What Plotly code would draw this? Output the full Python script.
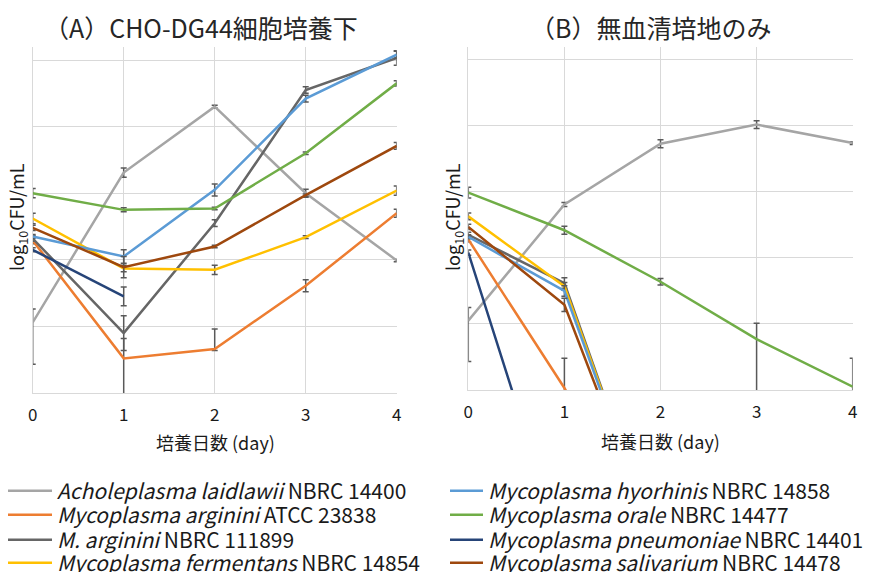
import plotly.graph_objects as go

days = [0, 1, 2, 3, 4]

names = [
    "<i>Acholeplasma laidlawii</i> NBRC 14400",
    "<i>Mycoplasma arginini</i> ATCC 23838",
    "<i>M. arginini</i> NBRC 111899",
    "<i>Mycoplasma fermentans</i> NBRC 14854",
    "<i>Mycoplasma hyorhinis</i> NBRC 14858",
    "<i>Mycoplasma orale</i> NBRC 14477",
    "<i>Mycoplasma pneumoniae</i> NBRC 14401",
    "<i>Mycoplasma salivarium</i> NBRC 14478",
]
colors = ["#A5A5A5", "#ED7D31", "#666666", "#FFC000",
          "#5B9BD5", "#70AD47", "#264478", "#9E480E"]

# (A) with CHO-DG44 cells : log10 CFU/mL
a_laidlawii = [4.06, 6.31, 7.30, 6.00, 4.99]
a_arginini_atcc = [5.29, 3.52, 3.66, 4.61, 5.70]
a_arginini_nbrc = [5.32, 3.90, 5.55, 7.55, 8.03]
a_fermentans = [5.62, 4.87, 4.85, 5.34, 6.04]
a_hyorhinis = [5.35, 5.05, 6.05, 7.42, 8.08]
a_orale = [6.00, 5.75, 5.77, 6.60, 7.65]
a_pneumoniae = [5.15, 4.45, None, None, None]
a_salivarium = [5.48, 4.89, 5.20, 5.97, 6.71]

a_err_plus = [
    [0.20, 0.07, 0.02, 0.06, 0.02],
    [0.05, 0.30, 0.30, 0.09, 0.06],
    [0.04, 0.26, 0.05, 0.05, 0.11],
    [0.08, 0.05, 0.07, 0.02, 0.07],
    [0.03, 0.10, 0.09, 0.05, 0.05],
    [0.07, 0.03, 0.02, 0.02, 0.04],
    [0.03, 0.14, 0, 0, 0],
    [0.04, 0.16, 0.02, 0.02, 0.05],
]
a_err_minus = [
    [0.63, 0.07, 0.02, 0.06, 0.02],
    [0.05, 0.60, 0.02, 0.09, 0.06],
    [0.04, 0.26, 0.05, 0.05, 0.11],
    [0.08, 0.05, 0.07, 0.02, 0.07],
    [0.03, 0.10, 0.09, 0.05, 0.05],
    [0.07, 0.03, 0.02, 0.02, 0.04],
    [0.03, 0.14, 0, 0, 0],
    [0.04, 0.16, 0.02, 0.02, 0.05],
]

# (B) serum-free medium only : log10 CFU/mL (0.5 = not detected)
b_laidlawii = [4.05, 5.81, 6.73, 7.02, 6.74]
b_arginini_atcc = [5.28, 3.03, 0.5, 0.5, 0.5]
b_arginini_nbrc = [5.35, 4.62, 0.5, 0.5, 0.5]
b_fermentans = [5.63, 4.57, 0.5, 0.5, 0.5]
b_hyorhinis = [5.32, 4.50, 0.5, 0.5, 0.5]
b_orale = [5.99, 5.42, 4.64, 3.77, 3.05]
b_pneumoniae = [5.08, 0.5, 0.5, 0.5, 0.5]
b_salivarium = [5.47, 4.29, 0.5, 0.5, 0.5]

b_err_plus = [
    [0.20, 0.03, 0.06, 0.06, 0.02],
    [0.04, 0.45, 0, 0, 0],
    [0.04, 0.08, 0, 0, 0],
    [0.05, 0.06, 0, 0, 0],
    [0.03, 0.08, 0, 0, 0],
    [0.08, 0.06, 0.05, 0.24, 0.43],
    [0.04, 0, 0, 0, 0],
    [0.04, 0.10, 0, 0, 0],
]
b_err_minus = [
    [0.62, 0.03, 0.06, 0.06, 0.02],
    [0.04, 0.45, 0, 0, 0],
    [0.04, 0.08, 0, 0, 0],
    [0.05, 0.06, 0, 0, 0],
    [0.03, 0.08, 0, 0, 0],
    [0.08, 0.06, 0.05, 1.0, 1.0],
    [0.04, 0, 0, 0, 0],
    [0.04, 0.10, 0, 0, 0],
]

a_series = [a_laidlawii, a_arginini_atcc, a_arginini_nbrc, a_fermentans,
            a_hyorhinis, a_orale, a_pneumoniae, a_salivarium]
b_series = [b_laidlawii, b_arginini_atcc, b_arginini_nbrc, b_fermentans,
            b_hyorhinis, b_orale, b_pneumoniae, b_salivarium]

FONT = "Noto Sans CJK JP"
ERR_COLOR = "#595959"
TXT = "#1a1a1a"

W, H = 872, 572
OFF = 8  # page body margin offset

def px_x(p):
    return (p - OFF) / W

def px_y(p):
    return 1 - (p - OFF) / H

legend_keys = ["legend"] + ["legend%d" % k for k in range(2, 9)]

fig = go.Figure()
for i, name in enumerate(names):
    fig.add_trace(go.Scatter(
        x=days, y=a_series[i], mode="lines", name=name,
        line=dict(color=colors[i], width=2.5),
        error_y=dict(type="data", symmetric=False, array=a_err_plus[i],
                     arrayminus=a_err_minus[i], color=ERR_COLOR,
                     thickness=1.5, width=3),
        legendgroup=name, showlegend=True, legend=legend_keys[i],
        xaxis="x", yaxis="y",
    ))
for i, name in enumerate(names):
    fig.add_trace(go.Scatter(
        x=days, y=b_series[i], mode="lines", name=name,
        line=dict(color=colors[i], width=2.5),
        error_y=dict(type="data", symmetric=False, array=b_err_plus[i],
                     arrayminus=b_err_minus[i], color=ERR_COLOR,
                     thickness=1.5, width=3),
        legendgroup=name, showlegend=False,
        xaxis="x2", yaxis="y2",
    ))

grid = "#D9D9D9"
xcommon = dict(range=[0, 4], tickvals=days, ticktext=[str(d) for d in days],
               showgrid=True, gridcolor=grid, gridwidth=1.3, zeroline=False,
               showline=True, linecolor=grid, linewidth=1.3,
               ticks="", ticklabelstandoff=6,
               tickfont=dict(family=FONT, size=17, color=TXT))
ycommon = dict(range=[3, 8.2], tick0=3, dtick=1, showgrid=True, gridcolor=grid,
               gridwidth=1.3, zeroline=False, showline=True, linecolor=grid,
               linewidth=1.3, showticklabels=False, ticks="")

row_y = [491, 515, 540, 563]
legend_layout = {}
for i, key in enumerate(legend_keys):
    col = 0 if i < 4 else 1
    legend_layout[key] = dict(
        x=px_x(2 if col == 0 else 445), y=px_y(row_y[i % 4]),
        xanchor="left", yanchor="middle", orientation="v",
        bgcolor="rgba(0,0,0,0)", tracegroupgap=0,
        itemwidth=45 if col == 0 else 33,
        font=dict(family=FONT, size=21, color=TXT),
    )

fig.update_layout(
    width=W, height=H,
    margin=dict(l=0, r=0, t=0, b=0, autoexpand=False),
    paper_bgcolor="white", plot_bgcolor="white",
    font=dict(family=FONT, color=TXT),
    xaxis=dict(domain=[px_x(32.7), px_x(396.7)], anchor="y", **xcommon),
    yaxis=dict(domain=[px_y(393), px_y(46.7)], anchor="x", **ycommon),
    xaxis2=dict(domain=[px_x(468.3), px_x(852.7)], anchor="y2", **xcommon),
    yaxis2=dict(domain=[px_y(390), px_y(46.7)], anchor="x2", **ycommon),
    showlegend=True,
    **legend_layout,
)

def note(text, x, y, size, angle=0, color=TXT):
    fig.add_annotation(text=text, x=px_x(x), y=px_y(y), xref="paper",
                       yref="paper", xanchor="center", yanchor="middle",
                       showarrow=False, textangle=angle,
                       font=dict(family=FONT, size=size, color=color))

note("（A）CHO-DG44細胞培養下", 201, 27, 25, color="#262626")
note("（B）無血清培地のみ", 650, 27, 25, color="#262626")
note("log<sub>10</sub>CFU/mL", 17, 217, 18, angle=-90)
note("log<sub>10</sub>CFU/mL", 453, 217, 18, angle=-90)
note("培養日数 (day)", 215, 442, 18)
note("培養日数 (day)", 660, 441, 18)

fig.write_html("out.html")
